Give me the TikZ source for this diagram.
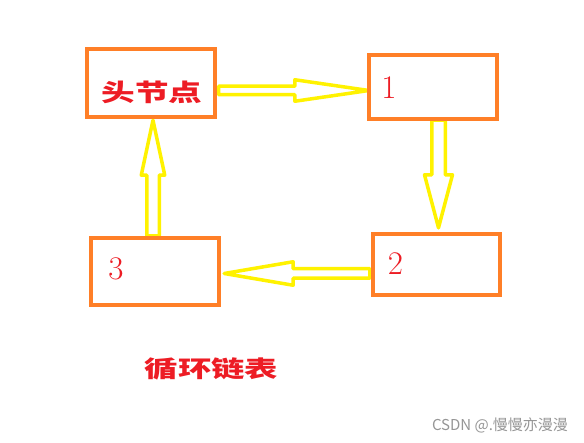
\documentclass[tikz,border=0pt]{standalone}
\usepackage{fontspec}
\newfontfamily\cjk{Noto Sans CJK SC}
\usetikzlibrary{calc}
\definecolor{boxorange}{RGB}{255,127,39}
\definecolor{arrowyellow}{RGB}{255,242,0}
\definecolor{labelred}{RGB}{237,28,36}
\definecolor{markgray}{RGB}{150,150,150}
\begin{document}
\begin{tikzpicture}[x=1pt,y=-1pt,
  box/.style={draw=boxorange,line width=4pt,inner sep=0pt},
  blockarrow/.style={draw=arrowyellow,line width=3.5pt,line join=round},
  cjklabel/.style={text=labelred,inner sep=0pt,font=\cjk\bfseries},
  digit/.style={text=labelred,inner sep=0pt,font=\fontsize{33}{33}\selectfont}]
\fill[white] (0,0) rectangle (584,443);
\useasboundingbox (0,0) rectangle (584,443);
% boxes (positions)
\path (151,83) node[minimum width=128pt,minimum height=68pt] (hd) {};
\path (433,87) node[minimum width=128pt,minimum height=64pt] (n1) {};
\path (436.5,264.5) node[minimum width=127pt,minimum height=61pt] (n2) {};
\path (155,271.5) node[minimum width=128pt,minimum height=67pt] (n3) {};
% arrow end points
\coordinate (s1) at ($(hd.east)+(3.5,7.5)$);
\coordinate (t1) at ($(n1.west)+(0,3.5)$);
\coordinate (s2) at ($(n1.south)+(5.5,1)$);
\coordinate (t2) at ($(n2.north)+(2,-6)$);
\coordinate (s3) at ($(n2.west)+(-3,9)$);
\coordinate (t3) at ($(n3.east)+(5,2)$);
\coordinate (s4) at ($(n3.north)+(-2,-2)$);
\coordinate (t4) at ($(hd.south)+(2,3)$);
% block arrows
\draw[blockarrow] ($(s1)+(0,-4.25)$) -- ($(t1)+(-74,-4.25)$) -- ($(t1)+(-74,-10.75)$) -- (t1)
  -- ($(t1)+(-74,10.75)$) -- ($(t1)+(-74,4.25)$) -- ($(s1)+(0,4.25)$) -- cycle;
\draw[blockarrow] ($(s2)+(-6.75,0)$) -- ($(t2)+(-6.75,-53)$) -- ($(t2)+(-14,-53)$) -- (t2)
  -- ($(t2)+(14,-53)$) -- ($(t2)+(6.75,-53)$) -- ($(s2)+(6.75,0)$) -- cycle;
\draw[blockarrow] ($(s3)+(0,-4.75)$) -- ($(t3)+(69,-4.75)$) -- ($(t3)+(69,-11.75)$) -- (t3)
  -- ($(t3)+(69,11.75)$) -- ($(t3)+(69,4.75)$) -- ($(s3)+(0,4.75)$) -- cycle;
\draw[blockarrow] ($(s4)+(-6.25,0)$) -- ($(t4)+(-6.25,55)$) -- ($(t4)+(-11.75,55)$) -- (t4)
  -- ($(t4)+(11.75,55)$) -- ($(t4)+(6.25,55)$) -- ($(s4)+(6.25,0)$) -- cycle;
% box outlines
\foreach \b in {hd,n1,n2,n3}
  \draw[box] (\b.north west) rectangle (\b.south east);
% labels
\node[cjklabel] (lh) at (152,92) {\scalebox{1.4}[1]{\fontsize{24}{24}\selectfont 头节点}};
\node[digit] (l1) at (389,88) {1};
\node[digit] (l2) at (395.5,263.5) {2};
\node[digit] (l3) at (116,269) {3};
\node[cjklabel] (title) at (211.5,368.5) {\scalebox{1.45}[1]{\fontsize{23}{23}\selectfont 循环链表}};
\node[text=markgray,inner sep=0pt,font=\cjk\fontsize{15}{15}\selectfont] (mark) at (500,425) {CSDN @.慢慢亦漫漫};
\end{tikzpicture}
\end{document}
